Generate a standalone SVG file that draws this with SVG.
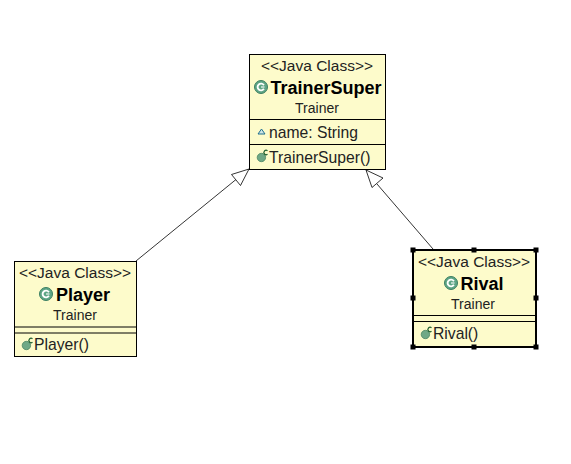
<svg xmlns="http://www.w3.org/2000/svg" width="571" height="464" viewBox="0 0 571 464">
<style>
.box{fill:#fdfbcb;stroke:#000;stroke-width:1}
.sel{stroke-width:2}
.sep{stroke:#000;stroke-width:1;fill:none}
text{font-family:"Liberation Sans",Arial,sans-serif;fill:#000}
.st{font-size:15.500px;text-anchor:middle;fill:#222}
.nm{font-size:18px;font-weight:bold;text-anchor:middle}
.pk{font-size:14px;text-anchor:middle;fill:#222}
.mb{font-size:15.700px;fill:#222}
.conn{stroke:#000;stroke-width:.8;fill:none}
.head{stroke:#000;stroke-width:.8;fill:#fff}
.h{fill:#000}
</style>
<defs>
<g id="cls"><circle r="6.500" fill="#5ea585" stroke="#3c7f62" stroke-width="1"/><path d="M2.900-1.800A3.400 3.400 0 1 0 2.900 1.800" fill="none" stroke="#fff" stroke-width="1.900"/><path d="M0 0H3.500" stroke="#fff" stroke-width="1.100"/></g>
<g id="ctor"><circle cx="-.6" cy="1.500" r="4.200" fill="#6fa886" stroke="#4a8462" stroke-width=".8"/><path d="M5.500-5.200A2.200 2.200 0 1 0 5.500-1.800" fill="none" stroke="#1f5f30" stroke-width="1.200"/></g>
</defs>
<g id="connectors">
<path class="conn" d="M136 261L236 179.500"/>
<path class="head" d="M249 169L231.500 174.500L240.500 185.500Z"/>
<path class="conn" d="M433 249L377 184"/>
<path class="head" d="M366 170L372 187.500L383 178Z"/>
</g>
<g id="TrainerSuper">
<rect class="box" x="249.500" y="54.500" width="136" height="115"/>
<path class="sep" d="M249.500 119.500H385.500M249.500 144.500H385.500"/>
<text class="st" x="317" y="71">&lt;&lt;Java Class&gt;&gt;</text>
<use href="#cls" x="261" y="87"/>
<text class="nm" x="326" y="94">TrainerSuper</text>
<text class="pk" x="317" y="113">Trainer</text>
<path d="M261.500 129L265 134H258Z" fill="#cfe6e6" stroke="#1f6f8f" stroke-width="1"/>
<text class="mb" x="269" y="138">name: String</text>
<use href="#ctor" x="262" y="156"/>
<text class="mb" x="269" y="163">TrainerSuper()</text>
</g>
<g id="Player">
<rect class="box" x="14.500" y="261.500" width="122" height="95"/>
<path class="sep" d="M14.500 327H136.500M14.500 333H136.500"/>
<text class="st" x="75" y="278">&lt;&lt;Java Class&gt;&gt;</text>
<use href="#cls" x="46" y="294"/>
<text class="nm" x="83" y="301">Player</text>
<text class="pk" x="75" y="320">Trainer</text>
<use href="#ctor" x="27" y="344"/>
<text class="mb" x="34" y="350">Player()</text>
</g>
<g id="Rival">
<rect class="box sel" x="413" y="250" width="123" height="97"/>
<path class="sep" d="M413 315.500H536M413 321.500H536"/>
<text class="st" x="474" y="267">&lt;&lt;Java Class&gt;&gt;</text>
<use href="#cls" x="451" y="283"/>
<text class="nm" x="482" y="290">Rival</text>
<text class="pk" x="473" y="309">Trainer</text>
<use href="#ctor" x="426" y="333"/>
<text class="mb" x="433" y="339">Rival()</text>
<g class="h">
<rect x="410.500" y="247.500" width="5" height="5"/><rect x="471.500" y="247.500" width="5" height="5"/><rect x="533.500" y="247.500" width="5" height="5"/>
<rect x="410.500" y="295.500" width="5" height="5"/><rect x="533.500" y="295.500" width="5" height="5"/>
<rect x="410.500" y="344.500" width="5" height="5"/><rect x="471.500" y="344.500" width="5" height="5"/><rect x="533.500" y="344.500" width="5" height="5"/>
</g>
</g>
</svg>
